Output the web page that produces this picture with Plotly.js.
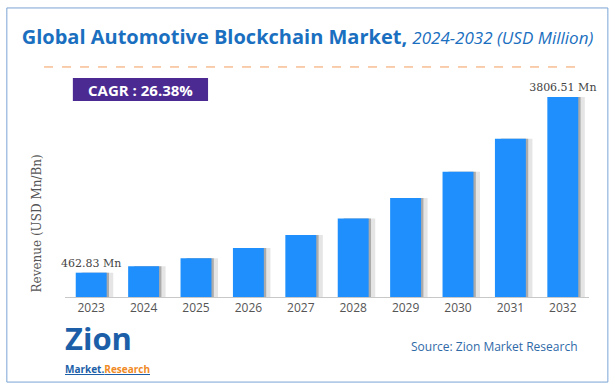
<!DOCTYPE html>
<html><head><meta charset="utf-8">
<script src="https://cdn.plot.ly/plotly-3.0.1.min.js"></script>
<style>html,body{margin:0;padding:0;background:#fff;}#chart{width:615px;height:391px;}</style>
</head><body><div id="chart"></div>
<script>
const years = ['2023','2024','2025','2026','2027','2028','2029','2030','2031','2032'];
const revenue = [462.83, 585, 739, 934, 1180, 1492, 1885, 2382, 3011, 3806.51];
const valueLabels = ['462.83 Mn','','','','','','','','','3806.51 Mn'];
const cagrText = 'CAGR : 26.38%';

const shadowLight = {
  type:'bar', x: years, y: revenue, width: 0.6, offset: -0.18,
  marker:{color:'rgba(170,170,170,0.3)'}, hoverinfo:'skip', showlegend:false
};
const shadowDark = {
  type:'bar', x: years, y: revenue, width: 0.52, offset: -0.18,
  marker:{color:'rgba(100,100,100,0.45)'}, hoverinfo:'skip', showlegend:false
};
const bars = {
  type:'bar', x: years, y: revenue, width: 0.59, offset: -0.295,
  marker:{color:'#1e8ffc'},
  text: valueLabels, textposition:'outside', cliponaxis:false, constraintext:'none',
  textfont:{family:'DejaVu Serif, Liberation Serif, serif', size:11, color:'#444'},
  showlegend:false
};

const layout = {
  width:615, height:391,
  margin:{l:65, r:26, t:80, b:94},
  paper_bgcolor:'#fff', plot_bgcolor:'#fff',
  barmode:'overlay',
  xaxis:{type:'category', showline:true, linecolor:'#c8c8c8', linewidth:1,
    ticks:'', tickfont:{family:'Open Sans, sans-serif', size:12, color:'#555'}, showgrid:false},
  yaxis:{range:[0,4130], showgrid:false, showticklabels:false, zeroline:false, showline:false},
  shapes:[
    {type:'rect', xref:'paper', yref:'paper', x0:-0.111, x1:1.036, y0:-0.392, y1:1.332,
     line:{color:'#7ba3d4', width:1}, fillcolor:'rgba(0,0,0,0)', layer:'below'},
    {type:'line', xref:'paper', yref:'paper', x0:-0.04, x1:0.983, y0:1.06, y1:1.06,
     line:{color:'#f29b5c', width:1, dash:'dash'}},
    {type:'rect', xref:'paper', yref:'paper', x0:0.015, x1:0.273, y0:0.903, y1:1.009,
     line:{width:0}, fillcolor:'#4b2a92', layer:'below'}
  ],
  annotations:[
    {xref:'paper', yref:'paper', x:0.144, y:0.956, xanchor:'center', yanchor:'middle', showarrow:false,
     text:'<b>'+cagrText+'</b>', font:{family:'Open Sans, sans-serif', size:15, color:'#fff'}},
    {xref:'paper', yref:'paper', x:-0.053, y:0.34, yanchor:'middle', xanchor:'center', showarrow:false, textangle:-90,
     text:'Revenue (USD Mn/Bn)', font:{family:'DejaVu Serif, Liberation Serif, serif', size:12, color:'#555'}},
    {xref:'paper', yref:'paper', x:0.983, y:-0.23, xanchor:'right', yanchor:'middle', showarrow:false,
     text:'Source: Zion Market Research', font:{family:'Open Sans, sans-serif', size:12, color:'#2f6aa8'}},
    {xref:'paper', yref:'paper', x:-0.003, y:-0.19, xanchor:'left', yanchor:'middle', showarrow:false,
     text:'<b>Zion</b>', font:{family:'Open Sans, sans-serif', size:31, weight:800, color:'#1c5fa8'}},
    {xref:'paper', yref:'paper', x:-0.003, y:-0.334, xanchor:'left', yanchor:'middle', showarrow:false,
     text:'<b><u>Market.</u></b><b><u><span style="color:#f08a24">Research</span></u></b>',
     font:{family:'Open Sans, sans-serif', size:10, color:'#1c5fa8'}}
  ],
  title:{text:'<b>Global Automotive Blockchain Market,</b> <i><span style="font-size:17px">2024-2032 (USD Million)</span></i>',
    x:0.5, xanchor:'center', y:0.905, yanchor:'middle',
    font:{family:'Open Sans, sans-serif', size:20, color:'#1a6fc0'}}
};

Plotly.newPlot('chart', [shadowLight, shadowDark, bars], layout, {displayModeBar:false, staticPlot:true});
</script>
</body></html>
